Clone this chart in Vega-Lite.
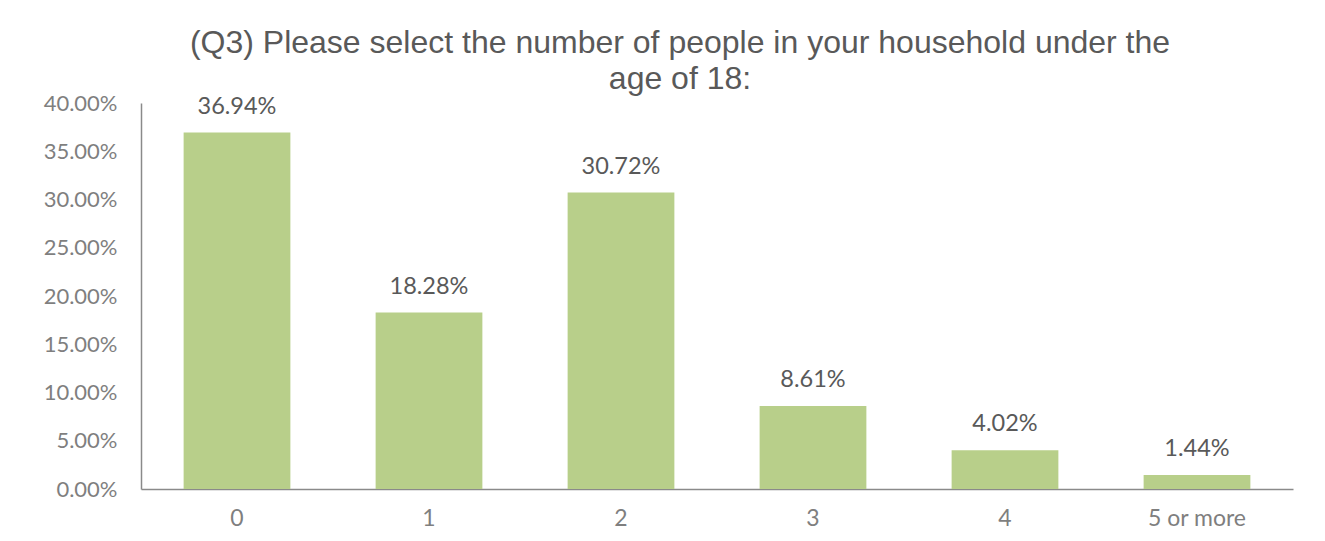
{
  "$schema": "https://vega.github.io/schema/vega-lite/v6.json",
  "autosize": "none",
  "width": 1152,
  "height": 386,
  "padding": {"left": 141, "top": 103, "right": 32, "bottom": 52},
  "background": "white",
  "title": {
    "text": ["(Q3) Please select the number of people in your household under the", "age of 18:"],
    "font": "Liberation Sans",
    "fontSize": 32,
    "fontWeight": "normal",
    "color": "#595959",
    "lineHeight": 36,
    "anchor": "middle",
    "frame": "group",
    "dx": -37,
    "offset": -4
  },
  "data": {
    "values": [
      {"category": "0", "value": 0.3694},
      {"category": "1", "value": 0.1828},
      {"category": "2", "value": 0.3072},
      {"category": "3", "value": 0.0861},
      {"category": "4", "value": 0.0402},
      {"category": "5 or more", "value": 0.0144}
    ]
  },
  "encoding": {
    "x": {
      "field": "category",
      "type": "nominal",
      "sort": null,
      "scale": {"paddingInner": 0.444, "paddingOuter": 0.222},
      "axis": {
        "title": null,
        "labelAngle": 0,
        "labelFont": "Lato",
        "labelFontSize": 23,
        "labelColor": "#7f7f7f",
        "ticks": false,
        "labelPadding": 18,
        "domainColor": "#8a8a8a",
        "domainWidth": 1.5
      }
    },
    "y": {
      "field": "value",
      "type": "quantitative",
      "scale": {"domain": [0, 0.4], "nice": false},
      "axis": {
        "title": null,
        "values": [0, 0.05, 0.1, 0.15, 0.2, 0.25, 0.3, 0.35, 0.4],
        "format": ".2%",
        "labelFont": "Lato",
        "labelFontSize": 22,
        "labelColor": "#7f7f7f",
        "ticks": false,
        "labelPadding": 24,
        "domainColor": "#8a8a8a",
        "domainWidth": 1.5,
        "grid": false
      }
    }
  },
  "layer": [
    {"mark": {"type": "bar", "color": "#b8cf8a"}},
    {
      "mark": {"type": "text", "baseline": "alphabetic", "dy": -19, "font": "Lato", "fontSize": 23.5, "color": "#595959"},
      "encoding": {"text": {"field": "value", "type": "quantitative", "format": ".2%"}}
    }
  ],
  "config": {"view": {"stroke": null}}
}
